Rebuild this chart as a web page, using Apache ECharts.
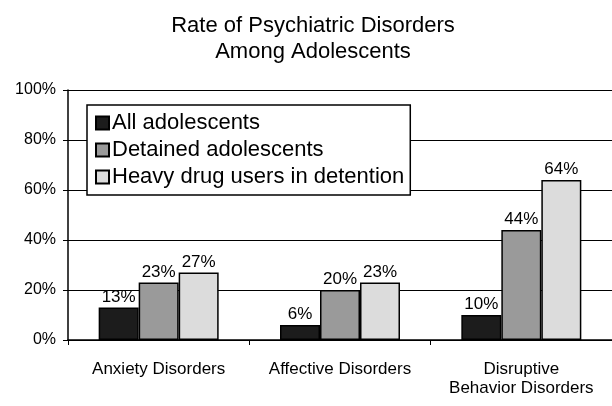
<!DOCTYPE html>
<html>
<head>
<meta charset="utf-8">
<script src="https://cdn.jsdelivr.net/npm/echarts@6/dist/echarts.min.js"></script>
<style>
  html, body { margin: 0; padding: 0; background: #fff; }
  #chart { width: 612px; height: 406px; }
</style>
</head>
<body>
<div id="chart"></div>
<script>
var categories = ['Anxiety Disorders', 'Affective Disorders', 'Disruptive\nBehavior Disorders'];
var seriesNames = ['All adolescents', 'Detained adolescents', 'Heavy drug users in detention'];
var allAdolescents = [13, 6, 10];
var detained = [23, 20, 44];
var heavyUsers = [27, 23, 64];
var yTicks = [0, 20, 40, 60, 80, 100];

var font = '"Liberation Sans", Arial, sans-serif';
var colors = ['#1c1c1c', '#9a9a9a', '#dcdcdc'];
var values = [allAdolescents, detained, heavyUsers];

var chart = echarts.init(document.getElementById('chart'));

var series = [];
for (var i = 0; i < seriesNames.length; i++) {
  series.push({
    name: seriesNames[i],
    type: 'bar',
    data: values[i],
    barWidth: 40,
    barGap: '0%',
    itemStyle: { color: colors[i], borderColor: '#000', borderWidth: 1.5 },
    label: {
      show: true,
      position: 'top',
      distance: 2,
      formatter: '{c}%',
      color: '#000',
      fontFamily: font,
      fontSize: 17
    }
  });
}

var option = {
  animation: false,
  backgroundColor: '#fff',
  title: {
    text: 'Rate of Psychiatric Disorders\nAmong Adolescents',
    left: 308,
    top: 8,
    textAlign: 'center',
    textStyle: { fontFamily: font, fontSize: 22, fontWeight: 'normal', color: '#000', lineHeight: 26 }
  },
  legend: {
    orient: 'vertical',
    left: 87,
    top: 105,
    padding: [7, 6, 7, 8],
    itemGap: 5,
    itemWidth: 13,
    itemHeight: 13,
    backgroundColor: '#fff',
    borderColor: '#000',
    borderWidth: 1.5,
    borderRadius: 0,
    icon: 'rect',
    data: seriesNames,
    textStyle: { fontFamily: font, fontSize: 22, color: '#000', padding: [0, 0, 0, -2] }
  },
  grid: { left: 68, right: 0, top: 90, bottom: 66, containLabel: false },
  xAxis: {
    type: 'category',
    data: categories,
    axisLine: { lineStyle: { color: '#000', width: 1.5 } },
    axisTick: { show: true, length: 5, lineStyle: { color: '#000' } },
    axisLabel: {
      interval: 0, hideOverlap: false,
      color: '#000', fontFamily: font, fontSize: 17, margin: 20, lineHeight: 19
    }
  },
  yAxis: {
    type: 'value',
    min: 0,
    max: 100,
    interval: 20,
    axisLine: { show: true, lineStyle: { color: '#000', width: 1.5 } },
    axisTick: { show: true, length: 5, lineStyle: { color: '#000' } },
    splitLine: { lineStyle: { color: '#000', width: 1 } },
    axisLabel: {
      color: '#000', fontFamily: font, fontSize: 16, margin: 12,
      formatter: function (v) { return yTicks.indexOf(v) >= 0 ? v + '%' : ''; }
    }
  },
  series: series
};

chart.setOption(option);
</script>
</body>
</html>
